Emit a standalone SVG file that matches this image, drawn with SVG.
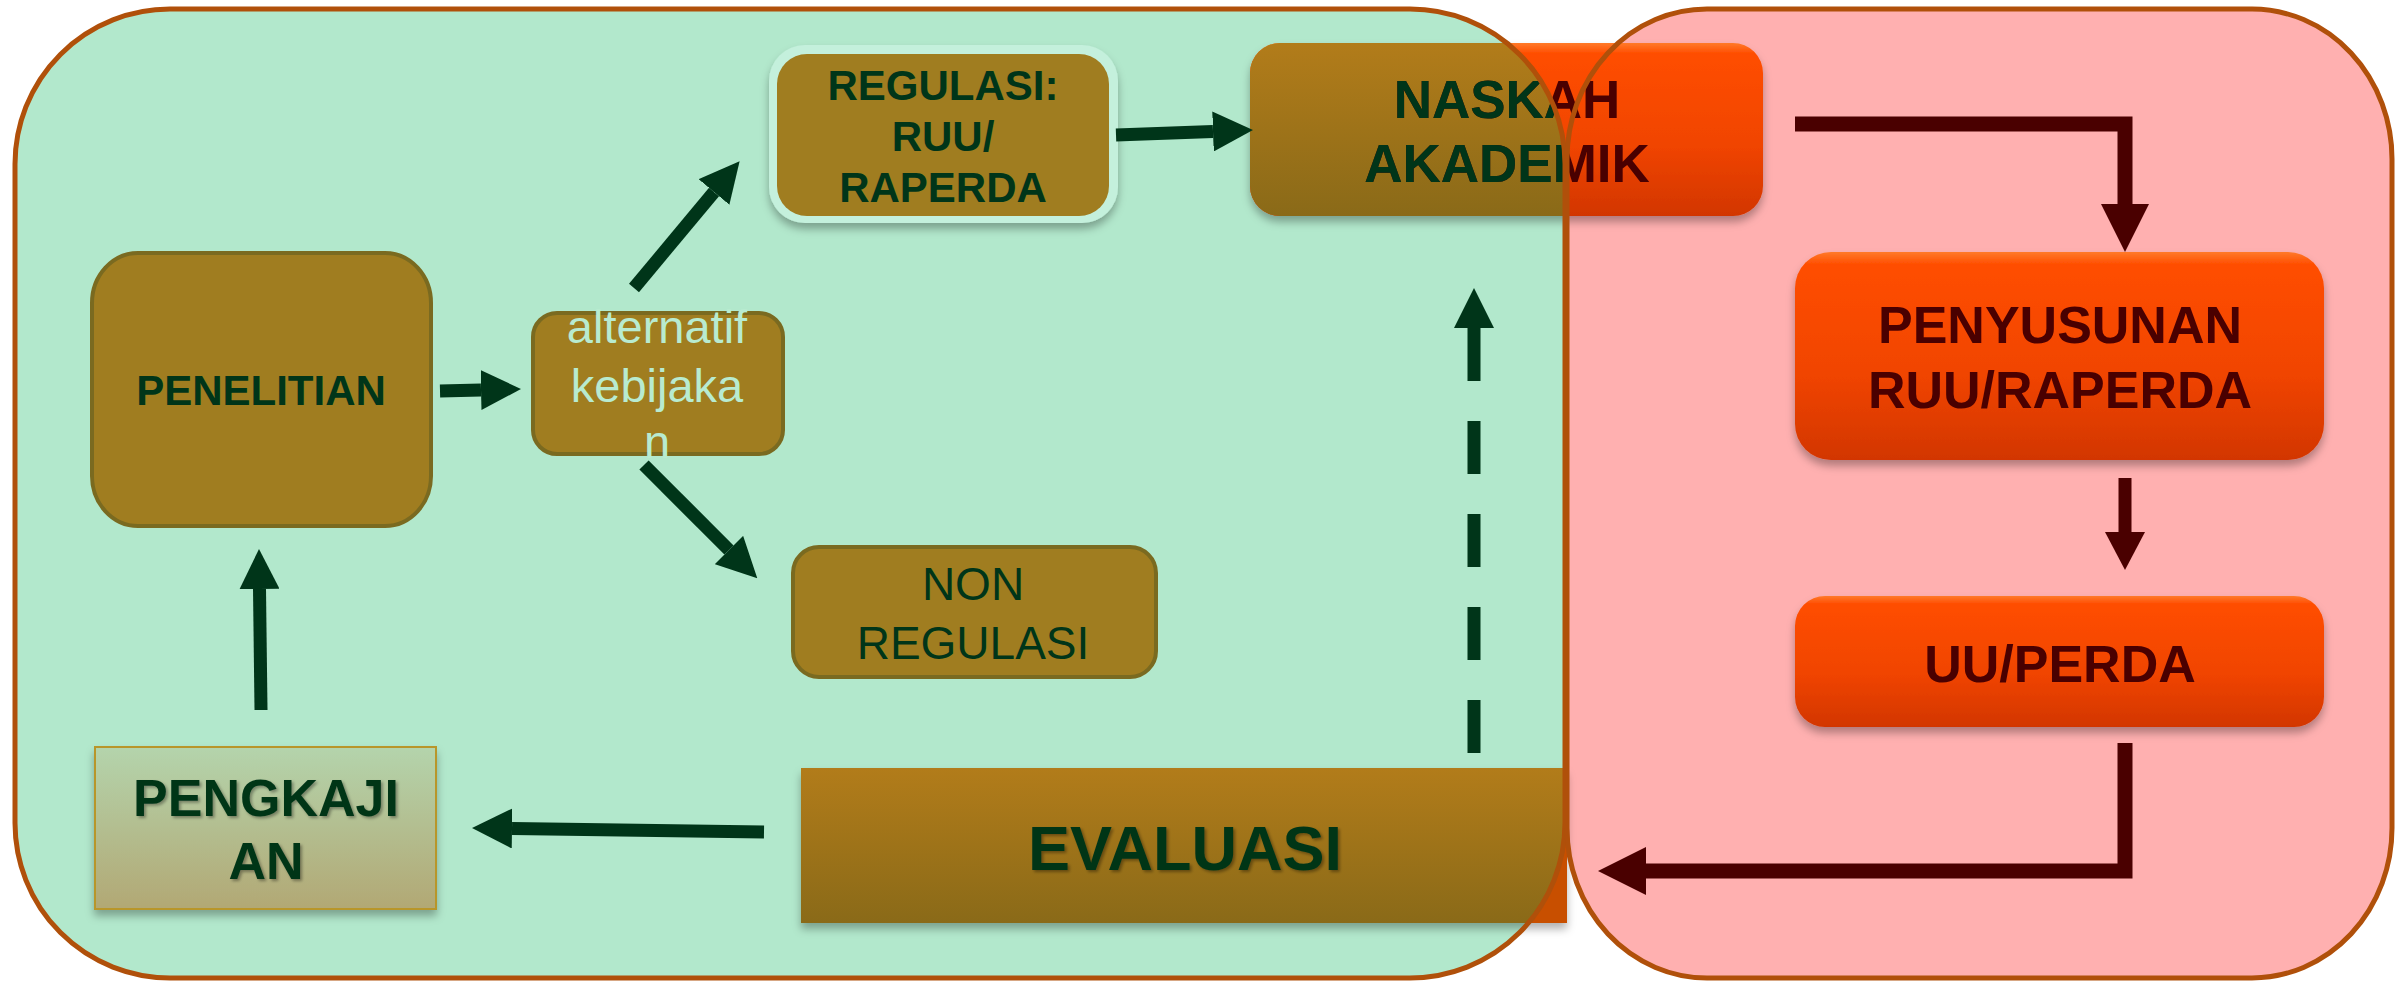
<svg xmlns="http://www.w3.org/2000/svg" width="2397" height="983" viewBox="0 0 2397 983">
<style>
.bold{font-family:"Liberation Sans",Arial,sans-serif;font-weight:bold;text-anchor:middle}
.reg{font-family:"Liberation Sans",Arial,sans-serif;font-weight:normal;text-anchor:middle}
.g{fill:#003519}
.r{fill:#4A0000}
.olive{fill:#A07D20;stroke:#7A6A20;stroke-width:4}
.ga{fill:none;stroke:#003519;stroke-width:13}
.ra{fill:none;stroke:#4A0000}
.frame{fill:none;stroke:#B0500A;stroke-width:5}
</style>
<defs>
<linearGradient id="org" x1="0" y1="0" x2="0" y2="1">
<stop offset="0" stop-color="#FF7A2A"/>
<stop offset="0.06" stop-color="#FF4E00"/>
<stop offset="0.6" stop-color="#F04400"/>
<stop offset="1" stop-color="#D23600"/>
</linearGradient>
<linearGradient id="brn" x1="0" y1="0" x2="0" y2="1">
<stop offset="0" stop-color="#B27C1A"/>
<stop offset="1" stop-color="#8A6A18"/>
</linearGradient>
<linearGradient id="pk" x1="0" y1="0" x2="0" y2="1">
<stop offset="0" stop-color="#B4D4AC"/>
<stop offset="1" stop-color="#B2A874"/>
</linearGradient>
<filter id="sh" x="-10%" y="-10%" width="120%" height="130%">
<feDropShadow dx="0" dy="6" stdDeviation="4" flood-color="#000" flood-opacity="0.3"/>
</filter>
<filter id="ts" x="-5%" y="-10%" width="110%" height="130%">
<feDropShadow dx="2" dy="2" stdDeviation="1.5" flood-color="#000" flood-opacity="0.35"/>
</filter>
<clipPath id="greenClip"><rect x="15" y="9" width="1550" height="969" rx="155" ry="155"/></clipPath>
<marker id="hg" viewBox="0 -20 40 40" refX="0" refY="0" markerWidth="40" markerHeight="40" markerUnits="userSpaceOnUse" orient="auto">
<path d="M0,-20 L40,0 L0,20 Z" fill="#003519"/>
</marker>
<marker id="hr" viewBox="0 -24 48 48" refX="0" refY="0" markerWidth="48" markerHeight="48" markerUnits="userSpaceOnUse" orient="auto">
<path d="M0,-24 L48,0 L0,24 Z" fill="#4A0000"/>
</marker>
<marker id="hr2" viewBox="0 -20 38 40" refX="0" refY="0" markerWidth="38" markerHeight="40" markerUnits="userSpaceOnUse" orient="auto">
<path d="M0,-20 L38,0 L0,20 Z" fill="#4A0000"/>
</marker>
</defs>

<g id="containers">
<rect x="15" y="9" width="1550" height="969" rx="155" ry="155" fill="#B2E8CC"/>
<rect x="1567" y="9" width="825" height="969" rx="140" ry="150" fill="#FFB0B0"/>
</g>

<g id="node-penelitian">
<rect class="olive" x="92" y="253" width="339" height="273" rx="46" ry="50"/>
<text class="bold g" x="261" y="405" font-size="42">PENELITIAN</text>
</g>

<g id="node-alternatif">
<rect class="olive" x="533" y="313" width="250" height="141" rx="24"/>
<text class="reg" fill="#B8EBD0" font-size="47"><tspan x="657" y="343">alternatif</tspan><tspan x="657" y="402">kebijaka</tspan><tspan x="657" y="458">n</tspan></text>
</g>

<g id="node-regulasi">
<rect x="769" y="45" width="349" height="178" rx="36" fill="#C4F0DC" filter="url(#sh)"/>
<rect x="777" y="54" width="332" height="162" rx="30" fill="#A07D20"/>
<text class="bold g" font-size="42"><tspan x="943" y="100">REGULASI:</tspan><tspan x="943" y="151">RUU/</tspan><tspan x="943" y="202">RAPERDA</tspan></text>
</g>

<g id="node-nonregulasi">
<rect class="olive" x="793" y="547" width="363" height="130" rx="26"/>
<text class="reg g" font-size="46"><tspan x="973" y="600">NON</tspan><tspan x="973" y="659">REGULASI</tspan></text>
</g>

<g id="node-naskah">
<rect x="1250" y="43" width="513" height="173" rx="30" fill="url(#org)" filter="url(#sh)"/>
<g clip-path="url(#greenClip)">
<rect x="1250" y="43" width="513" height="173" rx="30" fill="url(#brn)"/>
</g>
<text class="bold r" font-size="53"><tspan x="1507" y="118">NASKAH</tspan><tspan x="1507" y="182">AKADEMIK</tspan></text>
<text class="bold g" font-size="53" clip-path="url(#greenClip)"><tspan x="1507" y="118">NASKAH</tspan><tspan x="1507" y="182">AKADEMIK</tspan></text>
</g>

<g id="node-pengkajian">
<rect x="95" y="747" width="341" height="162" fill="url(#pk)" stroke="#B8962A" stroke-width="2" filter="url(#sh)"/>
<text class="bold g" font-size="52" filter="url(#ts)"><tspan x="266" y="816">PENGKAJI</tspan><tspan x="266" y="879">AN</tspan></text>
</g>

<g id="node-evaluasi">
<rect x="801" y="768" width="766" height="155" fill="#C85000" filter="url(#sh)"/>
<g clip-path="url(#greenClip)">
<rect x="801" y="768" width="766" height="155" fill="url(#brn)"/>
</g>
<text class="bold g" x="1185" y="870" font-size="63" filter="url(#ts)">EVALUASI</text>
</g>

<g id="node-penyusunan">
<rect x="1795" y="252" width="529" height="208" rx="36" fill="url(#org)" filter="url(#sh)"/>
<text class="bold r" font-size="52"><tspan x="2060" y="343">PENYUSUNAN</tspan><tspan x="2060" y="408">RUU/RAPERDA</tspan></text>
</g>

<g id="node-uuperda">
<rect x="1795" y="596" width="529" height="131" rx="30" fill="url(#org)" filter="url(#sh)"/>
<text class="bold r" x="2060" y="682" font-size="52">UU/PERDA</text>
</g>

<g id="frames">
<rect class="frame" x="15" y="9" width="1550" height="969" rx="155" ry="155"/>
<rect class="frame" x="1567" y="9" width="825" height="969" rx="140" ry="150"/>
</g>

<g id="connectors">
<path class="ga" stroke-width="14" d="M440 391 L481 390" marker-end="url(#hg)"/>
<path class="ga" stroke-width="12" d="M634 288 L714 192" marker-end="url(#hg)"/>
<path class="ga" stroke-width="12" d="M644 465 L729 550" marker-end="url(#hg)"/>
<path class="ga" stroke-width="14" d="M1116 135 L1213 131.5" marker-end="url(#hg)"/>
<path class="ga" d="M261 710 L259.5 589" marker-end="url(#hg)"/>
<path class="ga" d="M764 832 L512 828.5" marker-end="url(#hg)"/>
<path class="ga" d="M1474 753 L1474 328" stroke-dasharray="53 40" marker-end="url(#hg)"/>
<path class="ra" stroke-width="15" stroke-linejoin="miter" d="M1795 124 H2125 V204" marker-end="url(#hr)"/>
<path class="ra" stroke-width="13" d="M2125 478 V532" marker-end="url(#hr2)"/>
<path class="ra" stroke-width="15" stroke-linejoin="miter" d="M2125 743 V871 H1646" marker-end="url(#hr)"/>
</g>
</svg>
